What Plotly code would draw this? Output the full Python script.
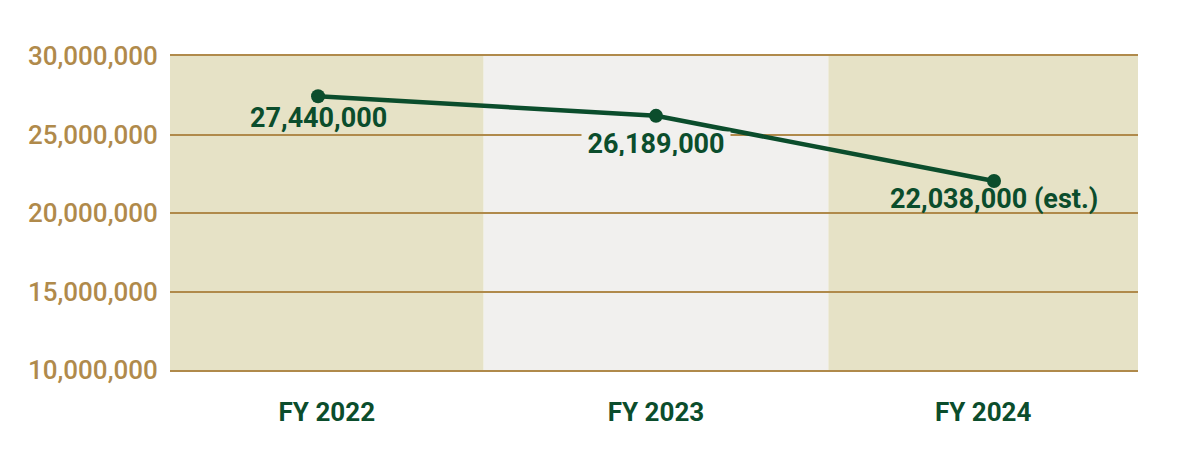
import plotly.graph_objects as go

categories = ["FY 2022", "FY 2023", "FY 2024"]
values = [27440000, 26189000, 22038000]
value_labels = ["27,440,000", "26,189,000", "22,038,000 (est.)"]
y_ticks = [10000000, 15000000, 20000000, 25000000, 30000000]
y_tick_labels = ["10,000,000", "15,000,000", "20,000,000", "25,000,000", "30,000,000"]

# styling
TAN = "#e6e2c6"
GRAY = "#f1f0ee"
GOLD = "#b08a4b"
GREEN = "#0b4d2c"
band_edges = [-0.438, 0.49, 1.51, 2.426]
band_colors = [TAN, GRAY, TAN]
label_bg = ["rgba(0,0,0,0)", GRAY, "rgba(0,0,0,0)"]
label_box = [None, (148, 24), None]
label_shift = [-22, -28, -18]

x = list(range(len(categories)))
centers = [(band_edges[i] + band_edges[i + 1]) / 2 for i in range(len(categories))]

fig = go.Figure()
fig.add_trace(go.Scatter(
    x=x, y=values, mode="lines+markers",
    line=dict(color=GREEN, width=4.5),
    marker=dict(color=GREEN, size=14),
    hoverinfo="skip", showlegend=False,
))

shapes = []
for i in range(len(categories)):
    shapes.append(dict(type="rect", xref="x", yref="paper",
                       x0=band_edges[i], x1=band_edges[i + 1], y0=0, y1=1,
                       fillcolor=band_colors[i], line=dict(width=0), layer="below"))

annotations = []
for i in range(len(categories)):
    ann = dict(
        x=x[i], y=values[i], xref="x", yref="y", text=value_labels[i],
        showarrow=False, yshift=label_shift[i],
        font=dict(family="Roboto", size=27, color=GREEN, weight="bold"),
        bgcolor=label_bg[i], borderpad=0,
    )
    if label_box[i]:
        ann["width"], ann["height"] = label_box[i]
    annotations.append(ann)

fig.update_layout(
    width=1184, height=442,
    margin=dict(l=162, r=54, t=48, b=80, autoexpand=False),
    paper_bgcolor="white", plot_bgcolor="white",
    shapes=shapes, annotations=annotations,
    xaxis=dict(range=[band_edges[0], band_edges[-1]], tickvals=centers, ticktext=categories,
               showgrid=False, zeroline=False,
               showline=True, linecolor=GOLD, linewidth=2, mirror=True,
               ticks="outside", ticklen=18, tickcolor="rgba(0,0,0,0)", automargin=False,
               tickfont=dict(family="Roboto", size=26, color=GREEN, weight="bold")),
    yaxis=dict(range=[10000000, 30000000], tickvals=y_ticks, ticktext=y_tick_labels,
               showgrid=True, gridcolor=GOLD, gridwidth=2, zeroline=False, showline=False,
               ticks="outside", ticklen=6, tickcolor="rgba(0,0,0,0)", automargin=False,
               tickfont=dict(family="Roboto", size=26, color=GOLD, weight=500)),
)

fig.write_html("out.html")
